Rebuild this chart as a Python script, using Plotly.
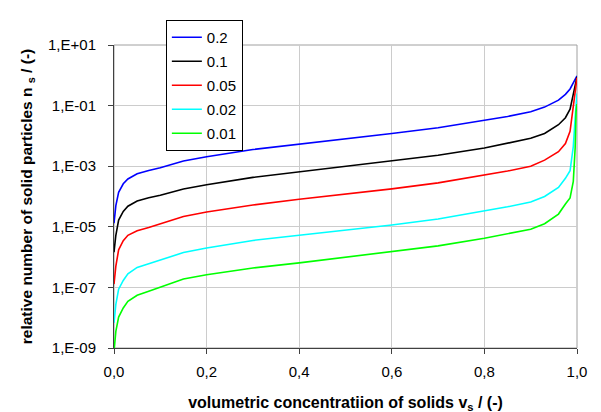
import plotly.graph_objects as go

# volumetric concentration of solids (x)
vs = [0.0, 0.004, 0.01, 0.02, 0.03, 0.05, 0.075, 0.1, 0.15, 0.2, 0.3, 0.4, 0.5,
      0.6, 0.7, 0.8, 0.85, 0.9, 0.93, 0.96, 0.975, 0.985, 0.992, 0.996, 0.998, 1.0]

# log10 of relative number of solid particles
log_n_02 = [-4.88, -4.30, -3.86, -3.58, -3.42, -3.25, -3.14, -3.05, -2.83, -2.69, -2.45, -2.28, -2.09,
            -1.92, -1.73, -1.50, -1.36, -1.20, -1.05, -0.82, -0.63, -0.45, -0.27, -0.13, -0.07, -0.02]
log_n_01 = [-5.84, -5.28, -4.78, -4.49, -4.32, -4.15, -4.04, -3.96, -3.75, -3.61, -3.37, -3.19, -3.01,
            -2.84, -2.64, -2.40, -2.25, -2.08, -1.92, -1.63, -1.40, -1.12, -0.62, -0.30, -0.15, -0.05]
log_n_005 = [-6.89, -6.30, -5.76, -5.46, -5.28, -5.13, -5.02, -4.90, -4.66, -4.51, -4.28, -4.09, -3.92,
             -3.75, -3.55, -3.30, -3.16, -3.00, -2.80, -2.52, -2.25, -1.85, -1.07, -0.55, -0.30, -0.08]
log_n_002 = [-8.17, -7.56, -7.06, -6.77, -6.55, -6.34, -6.22, -6.10, -5.85, -5.70, -5.45, -5.28, -5.11,
             -4.94, -4.74, -4.48, -4.34, -4.18, -4.00, -3.70, -3.40, -3.15, -2.35, -1.40, -0.90, -0.60]
log_n_001 = [-9.12, -8.45, -7.98, -7.68, -7.46, -7.26, -7.13, -7.00, -6.72, -6.58, -6.36, -6.19, -6.01,
             -5.82, -5.63, -5.38, -5.24, -5.08, -4.90, -4.58, -4.25, -4.05, -3.50, -2.40, -1.20, -0.95]

series_names = ["0.2", "0.1", "0.05", "0.02", "0.01"]
series_logs = [log_n_02, log_n_01, log_n_005, log_n_002, log_n_001]
series_colors = ["#0000FF", "#000000", "#FF0000", "#00FFFF", "#00FF00"]

y_tickvals = [1e1, 1e-1, 1e-3, 1e-5, 1e-7, 1e-9]
y_ticktext = ["1,E+01", "1,E-01", "1,E-03", "1,E-05", "1,E-07", "1,E-09"]

fig = go.Figure()
for name, logs, col in zip(series_names, series_logs, series_colors):
    fig.add_trace(go.Scatter(
        x=vs, y=[10 ** v for v in logs], mode="lines", name=name,
        legendgroup=name,
        line=dict(color=col, width=1.6),
    ))

font_family = "Liberation Sans, Arial, sans-serif"

fig.update_layout(
    width=601, height=412,
    margin=dict(l=106, r=32, t=33, b=64),
    paper_bgcolor="white", plot_bgcolor="white",
    separators=", ",
    font=dict(family=font_family, size=15, color="black"),
    showlegend=True,
    legend=dict(
        x=0.112, y=1.0825, xanchor="left", yanchor="top",
        bgcolor="white", bordercolor="black", borderwidth=1,
        font=dict(size=15, family=font_family),
        tracegroupgap=1.5,
    ),
    xaxis=dict(
        range=[0, 1], dtick=0.2, tick0=0, tickformat=".1f",
        showgrid=True, gridcolor="#cccccc", gridwidth=1,
        zeroline=False, showline=True, linecolor="#404040", linewidth=1,
        ticks="outside", ticklen=5, tickcolor="#404040",
        tickfont=dict(size=15), ticklabelstandoff=5,
        title=dict(text="<b>volumetric concentratiion of solids v<sub>s</sub> / (-)</b>",
                   font=dict(size=16), standoff=17),
    ),
    yaxis=dict(
        type="log", range=[-9, 1],
        tickvals=y_tickvals, ticktext=y_ticktext,
        showgrid=True, gridcolor="#cccccc", gridwidth=1,
        zeroline=False, showline=True, linecolor="#404040", linewidth=1,
        ticks="outside", ticklen=5, tickcolor="#404040",
        tickfont=dict(size=15), ticklabelstandoff=9,
        title=dict(text="<b>relative number of solid particles n <sub>s</sub> / (-)</b>",
                   font=dict(size=15.5), standoff=11),
    ),
    shapes=[dict(type="rect", xref="paper", yref="paper", x0=0, y0=0, x1=1, y1=1,
                 line=dict(color="#a0a0a0", width=1), layer="below")],
)

fig.write_html("out.html")
